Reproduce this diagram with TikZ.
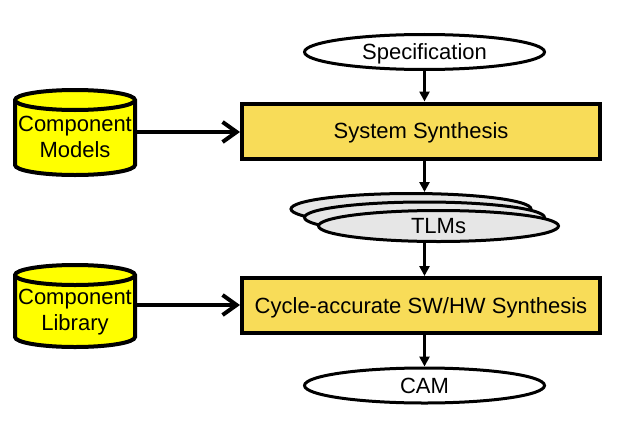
\documentclass[tikz,border=0pt]{standalone}
\usepackage{fontspec}
\setmainfont{Liberation Sans}
\usetikzlibrary{arrows.meta,shapes.geometric}
\definecolor{boxgold}{RGB}{248,220,88}
\definecolor{cylyellow}{RGB}{255,255,0}
\definecolor{tlmgray}{RGB}{230,230,230}
\begin{document}
\begin{tikzpicture}[x=1pt,y=-1pt,
  every node/.style={font=\fontsize{22}{26}\selectfont, inner sep=0pt},
  onel/.style={text height=15.8pt, text depth=0pt},
  oval/.style={onel, ellipse, draw, line width=3pt, minimum width=240pt, minimum height=35pt, fill=white},
  tlmoval/.style={onel, ellipse, draw, line width=3pt, minimum width=240pt, minimum height=31pt, fill=tlmgray},
  synth/.style={onel, rectangle, draw, line width=4pt, fill=boxgold, minimum width=358pt, minimum height=55pt},
  flow/.style={line width=2.5pt, -{Triangle[length=10pt,width=10pt]}},
  feed/.style={line width=4pt, line cap=round, -{Straight Barb[length=14pt,width=20pt]}},
  cyl/.style={line width=4pt, fill=cylyellow},
  cyltext/.style={align=center, text width=124pt}
]
\useasboundingbox (0,0) rectangle (628,428);

% nodes of the flow
\node[oval] (spec) at (424.5,52) {Specification};
\node[synth] (ss) at (421,131) {System Synthesis};
\node[tlmoval] (tlmback) at (411,209) {};
\node[tlmoval] (tlmmid) at (424.5,217.5) {};
\node[tlmoval] (tlm) at (438.5,226) {TLMs};
\node[synth] (cyc) at (421,305.5) {Cycle-accurate SW/HW Synthesis};
\node[oval] (cam) at (424.5,385.5) {CAM};

% cylinders
\draw[cyl] (15,100) -- (15,165) arc[start angle=180, end angle=0, x radius=60, y radius=10]
  -- (135,100) arc[start angle=0, end angle=-180, x radius=60, y radius=10] -- cycle;
\draw[cyl] (15,100) arc[start angle=180, end angle=0, x radius=60, y radius=10];
\node[cyltext] (cm) at (75,137) {Component\\Models};

\draw[cyl] (15,275) -- (15,337) arc[start angle=180, end angle=0, x radius=60, y radius=10]
  -- (135,275) arc[start angle=0, end angle=-180, x radius=60, y radius=10] -- cycle;
\draw[cyl] (15,275) arc[start angle=180, end angle=0, x radius=60, y radius=10];
\node[cyltext] (cl) at (75,312) {Component\\Library};

% connectors
\draw[flow] (spec.south) -- (spec.south |- ss.north);
\draw[flow] (spec.south |- ss.south) -- (spec.south |- tlmback.north);
\draw[flow] (spec.south |- tlm.south) -- (spec.south |- cyc.north);
\draw[flow] (spec.south |- cyc.south) -- (cam.north);

\draw[feed] ([yshift=5pt]cm.east) -- ([yshift=5pt]cm.east -| ss.west);
\draw[feed] ([yshift=7pt]cl.east) -- ([yshift=7pt]cl.east -| cyc.west);
\end{tikzpicture}
\end{document}
